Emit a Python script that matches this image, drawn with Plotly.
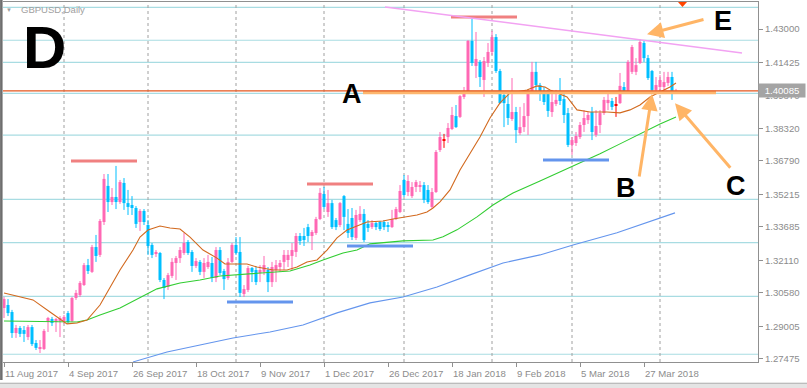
import plotly.graph_objects as go

# ---------------- data ----------------
tick_index = [0, 16, 32, 48, 64, 80, 96, 112, 128, 144, 160]
tick_labels = ["11 Aug 2017", "4 Sep 2017", "26 Sep 2017", "18 Oct 2017", "9 Nov 2017",
               "1 Dec 2017", "26 Dec 2017", "18 Jan 2018", "9 Feb 2018", "5 Mar 2018", "27 Mar 2018"]
month_start_index = [15, 36, 58, 80, 100, 122, 142, 164]

price_ticks = [1.43000, 1.41425, 1.39870, 1.38320, 1.36790, 1.35215, 1.33685,
               1.32110, 1.30580, 1.29005, 1.27475]
current_price = 1.40085
symbol_label = "GBPUSD,Daily"

open_px = [1.2986,1.3000,1.2967,1.2868,1.2892,1.2882,1.2849,1.2896,1.2821,1.2793,
           1.2793,1.2920,1.2934,1.2920,1.2925,1.2925,1.2962,1.2925,1.3033,1.3047,
           1.3094,1.3188,1.3156,1.3273,1.3236,1.3391,1.3561,1.3485,1.3509,1.3485,
           1.3575,1.3480,1.3471,1.3457,1.3391,1.3443,1.3377,1.3283,1.3240,1.3245,
           1.3118,1.3085,1.3137,1.3198,1.3221,1.3245,1.3297,1.3250,1.3184,1.3203,
           1.3156,1.3179,1.3198,1.3127,1.3259,1.3160,1.3127,1.3203,1.3283,1.3250,
           1.3052,1.3071,1.3174,1.3165,1.3151,1.3156,1.3165,1.3108,1.3165,1.3179,
           1.3203,1.3212,1.3231,1.3250,1.3325,1.3325,1.3367,1.3325,1.3339,1.3405,
           1.3523,1.3438,1.3480,1.3400,1.3377,1.3513,1.3382,1.3410,1.3316,1.3400,
           1.3429,1.3382,1.3367,1.3386,1.3391,1.3391,1.3377,1.3367,1.3405,1.3438,
           1.3589,1.3532,1.3513,1.3556,1.3556,1.3565,1.3542,1.3462,1.3532,1.3730,
           1.3777,1.3791,1.3829,1.3890,1.3886,1.3980,1.3999,1.4244,1.4126,1.4145,
           1.4060,1.4140,1.4192,1.4262,1.4102,1.3989,1.3947,1.3876,1.3909,1.3810,
           1.3838,1.3890,1.4003,1.4098,1.4036,1.3999,1.4003,1.3909,1.3947,1.3989,
           1.3970,1.3904,1.3754,1.3763,1.3791,1.3848,1.3871,1.3909,1.3801,1.3848,
           1.3904,1.3951,1.3961,1.3942,1.3951,1.4027,1.4003,1.4098,1.4098,1.4140,
           1.4234,1.4163,1.4102,1.4013,1.4027,1.4027,1.4046,1.4074,1.4003]
high_px = [1.3038,1.3028,1.2977,1.2906,1.2901,1.2901,1.2906,1.2906,1.2835,1.2835,
           1.2887,1.2944,1.2944,1.2939,1.2948,1.2953,1.2972,1.3038,1.3071,1.3113,
           1.3198,1.3217,1.3283,1.3330,1.3405,1.3617,1.3617,1.3551,1.3655,1.3589,
           1.3598,1.3542,1.3513,1.3466,1.3452,1.3452,1.3400,1.3292,1.3259,1.3250,
           1.3127,1.3151,1.3221,1.3231,1.3273,1.3339,1.3306,1.3259,1.3221,1.3212,
           1.3221,1.3236,1.3226,1.3273,1.3273,1.3170,1.3221,1.3292,1.3320,1.3320,
           1.3094,1.3184,1.3179,1.3179,1.3188,1.3231,1.3179,1.3203,1.3212,1.3212,
           1.3259,1.3259,1.3292,1.3339,1.3339,1.3363,1.3382,1.3353,1.3415,1.3551,
           1.3556,1.3542,1.3495,1.3410,1.3485,1.3518,1.3452,1.3457,1.3448,1.3466,
           1.3452,1.3400,1.3400,1.3391,1.3396,1.3400,1.3391,1.3448,1.3462,1.3565,
           1.3612,1.3612,1.3579,1.3589,1.3584,1.3579,1.3565,1.3551,1.3730,1.3815,
           1.3806,1.3857,1.3933,1.3942,1.3989,1.4027,1.4248,1.4347,1.4286,1.4154,
           1.4168,1.4234,1.4291,1.4276,1.4112,1.3999,1.3999,1.4069,1.3933,1.3933,
           1.3951,1.4013,1.4145,1.4145,1.4046,1.4027,1.4013,1.4013,1.4013,1.4069,
           1.3999,1.3928,1.3791,1.3815,1.3862,1.3918,1.3909,1.3933,1.3918,1.3918,
           1.3980,1.3999,1.3975,1.3980,1.4093,1.4050,1.4154,1.4225,1.4163,1.4253,
           1.4248,1.4178,1.4107,1.4074,1.4083,1.4098,1.4098,1.4098,1.4018]
low_px = [1.2939,1.2948,1.2845,1.2845,1.2849,1.2826,1.2835,1.2807,1.2788,1.2774,
          1.2788,1.2873,1.2901,1.2873,1.2849,1.2911,1.2911,1.2920,1.3024,1.3038,
          1.3090,1.3146,1.3151,1.3203,1.3226,1.3377,1.3438,1.3471,1.3452,1.3476,
          1.3448,1.3424,1.3424,1.3363,1.3349,1.3377,1.3236,1.3221,1.3226,1.3108,
          1.3028,1.3071,1.3127,1.3118,1.3198,1.3236,1.3236,1.3156,1.3174,1.3141,
          1.3127,1.3170,1.3108,1.3108,1.3141,1.3071,1.3118,1.3198,1.3236,1.3038,
          1.3038,1.3061,1.3108,1.3094,1.3108,1.3141,1.3061,1.3085,1.3108,1.3156,
          1.3165,1.3179,1.3165,1.3226,1.3283,1.3278,1.3297,1.3259,1.3330,1.3400,
          1.3452,1.3415,1.3358,1.3353,1.3367,1.3353,1.3316,1.3306,1.3306,1.3391,
          1.3297,1.3344,1.3358,1.3353,1.3349,1.3353,1.3344,1.3363,1.3400,1.3433,
          1.3509,1.3513,1.3504,1.3532,1.3532,1.3480,1.3476,1.3457,1.3528,1.3721,
          1.3740,1.3763,1.3824,1.3834,1.3881,1.3970,1.3994,1.4126,1.4069,1.4027,
          1.3980,1.4121,1.4178,1.4093,1.3947,1.3838,1.3848,1.3867,1.3763,1.3801,
          1.3815,1.3801,1.3999,1.4003,1.3961,1.3942,1.3886,1.3886,1.3937,1.3942,
          1.3857,1.3744,1.3707,1.3749,1.3782,1.3815,1.3853,1.3777,1.3791,1.3810,
          1.3895,1.3918,1.3918,1.3886,1.3947,1.3999,1.3999,1.4088,1.4083,1.4135,
          1.4145,1.4060,1.3999,1.4003,1.4003,1.4013,1.4032,1.3966,1.4000]
close_px = [1.3028,1.2962,1.2868,1.2892,1.2864,1.2864,1.2896,1.2816,1.2798,1.2802,
            1.2878,1.2939,1.2915,1.2934,1.2939,1.2944,1.2920,1.3033,1.3057,1.3104,
            1.3188,1.3160,1.3273,1.3231,1.3396,1.3594,1.3485,1.3509,1.3485,1.3579,
            1.3480,1.3462,1.3457,1.3382,1.3443,1.3391,1.3278,1.3236,1.3250,1.3118,
            1.3080,1.3141,1.3203,1.3221,1.3259,1.3292,1.3245,1.3184,1.3207,1.3156,
            1.3198,1.3203,1.3127,1.3259,1.3151,1.3122,1.3203,1.3283,1.3245,1.3057,
            1.3075,1.3174,1.3156,1.3108,1.3165,1.3188,1.3108,1.3179,1.3188,1.3198,
            1.3236,1.3236,1.3259,1.3325,1.3302,1.3306,1.3325,1.3344,1.3405,1.3528,
            1.3462,1.3480,1.3367,1.3367,1.3480,1.3415,1.3339,1.3320,1.3424,1.3429,
            1.3306,1.3363,1.3386,1.3367,1.3358,1.3367,1.3372,1.3405,1.3452,1.3537,
            1.3518,1.3584,1.3556,1.3579,1.3565,1.3495,1.3485,1.3532,1.3721,1.3791,
            1.3777,1.3834,1.3895,1.3838,1.3984,1.3999,1.4244,1.4140,1.4159,1.4074,
            1.4149,1.4192,1.4262,1.4102,1.3951,1.3951,1.3881,1.3909,1.3824,1.3838,
            1.3890,1.4003,1.4098,1.4036,1.3999,1.3956,1.3914,1.3956,1.3966,1.3961,
            1.3895,1.3754,1.3777,1.3796,1.3848,1.3881,1.3895,1.3815,1.3843,1.3904,
            1.3966,1.3966,1.3933,1.3942,1.4032,1.4003,1.4145,1.4215,1.4130,1.4239,
            1.4163,1.4069,1.4013,1.4036,1.4060,1.4050,1.4074,1.4008,1.40085]

# moving averages
ma_fast_idx = [0,7.25,11.5,15.75,18.25,20.75,24,26.5,29,32.25,34,36,39,41.5,44,46.5,49.75,53.25,55.25,
               60.75,63.25,67.25,70.75,73.25,75.75,78.25,80.75,83.25,85.75,90.75,94.75,97.25,100.75,
               103.25,105.75,107.25,109,111.5,114,116.5,119,121.5,124,126.5,130.75,133.25,135.25,136.5,
               140.75,143.25,146.5,150.75,154,156.5,159,161.5,164,166.5,168]
ma_fast_val = [1.3057,1.3024,1.2967,1.2911,1.2915,1.2929,1.3000,1.3085,1.3165,1.3259,1.3320,1.3353,1.3372,
               1.3363,1.3358,1.3320,1.3259,1.3221,1.3193,1.3193,1.3179,1.3165,1.3165,1.3179,1.3203,1.3212,
               1.3259,1.3316,1.3353,1.3391,1.3396,1.3405,1.3415,1.3424,1.3438,1.3457,1.3486,1.3542,1.3636,
               1.3716,1.3791,1.3881,1.3952,1.3999,1.4013,1.4032,1.4027,1.4013,1.3980,1.3919,1.3909,1.3909,
               1.3905,1.3919,1.3942,1.3980,1.4004,1.4027,1.4046]
ma_mid_idx = [0,11.5,18.25,20.75,24,29,34,38.25,44,49,54,60.75,66.5,71.5,76.5,79.75,84.75,88.25,91.5,
              99.75,107.25,109.75,113.25,118.25,122.25,127.25,134,139,144,149,154,159,164,168]
ma_mid_val = [1.2925,1.2920,1.2920,1.2929,1.2953,1.2986,1.3033,1.3076,1.3104,1.3118,1.3137,1.3146,1.3151,
              1.3160,1.3188,1.3212,1.3245,1.3259,1.3288,1.3302,1.3306,1.3321,1.3354,1.3415,1.3471,1.3528,
              1.3584,1.3627,1.3669,1.3712,1.3759,1.3806,1.3853,1.3886]
ma_slow_idx = [32.25,40.75,49,57.25,66.5,74.75,83.25,91.5,99.75,108.25,116.5,124.75,134,142.25,153.25,159,167.75]
ma_slow_val = [1.2732,1.2779,1.2812,1.2845,1.2873,1.2906,1.2963,1.3010,1.3038,1.3085,1.3142,1.3198,1.3236,
               1.3283,1.3340,1.3377,1.3434]

# drawn objects
level_prices = [1.4402, 1.4247, 1.4143, 1.3997, 1.3800, 1.3498, 1.3294, 1.3041, 1.2768]
resist_start = [16.75, 75.75, 111.75]
resist_end = [33.25, 92.25, 128.25]
resist_price = [1.3678, 1.3570, 1.4357]
support_start = [55.75, 85.75, 134.75]
support_end = [72.25, 102.25, 151.25]
support_price = [1.3014, 1.3278, 1.3683]
trend_idx = [95.25, 184.5]
trend_price = [1.4404, 1.4187]
zone_idx = [89.75, 178]
zone_price = 1.4001
arrow_head_idx = [160.75, 162, 167.75]
arrow_head_price = [1.4275, 1.3994, 1.3950]
arrow_tail_idx = [175.25, 158.75, 181.9]
arrow_tail_price = [1.4347, 1.3598, 1.3639]
letter_text = ["A", "E", "B", "C"]
letter_idx = [87.1, 179.75, 155.6, 182.9]
letter_price = [1.3995, 1.4337, 1.3550, 1.3559]
big_letter = "D"
big_letter_idx = 10.1
big_letter_price = 1.4215

# ---------------- styles ----------------
PINK = "#FF69B4"
CYAN = "#00BFFF"
DOJI = "#FF0000"
FONT = "Liberation Sans, Arial, sans-serif"
GREY_TXT = "#8C8C8C"

n = len(open_px)
idx = list(range(n))
body_base, body_h, body_col = [], [], []
wick = {PINK: ([], []), CYAN: ([], []), DOJI: ([], [])}
for i in idx:
    o, h, l, c = open_px[i], high_px[i], low_px[i], close_px[i]
    col = PINK if c > o else (CYAN if c < o else DOJI)
    lo, hi = min(o, c), max(o, c)
    hgt = max(hi - lo, 0.0005)
    body_base.append((lo + hi) / 2 - hgt / 2)
    body_h.append(hgt)
    body_col.append(col)
    wick[col][0].extend([i, i, None])
    wick[col][1].extend([l, h, None])

fig = go.Figure()
fig.add_trace(go.Bar(x=idx, y=body_h, base=body_base, width=0.75,
                     marker=dict(color=body_col, line=dict(width=0)), hoverinfo="skip"))
for col, (wx, wy) in wick.items():
    fig.add_trace(go.Scatter(x=wx, y=wy, mode="lines", line=dict(color=col, width=1),
                             hoverinfo="skip"))
fig.add_trace(go.Scatter(x=ma_slow_idx, y=ma_slow_val, mode="lines",
                         line=dict(color="#6495ED", width=1.1), hoverinfo="skip"))
fig.add_trace(go.Scatter(x=ma_mid_idx, y=ma_mid_val, mode="lines",
                         line=dict(color="#32CD32", width=1.1), hoverinfo="skip"))
fig.add_trace(go.Scatter(x=ma_fast_idx, y=ma_fast_val, mode="lines",
                         line=dict(color="#D2691E", width=1.1), hoverinfo="skip"))

shapes = []
for p in level_prices:
    shapes.append(dict(type="line", xref="paper", x0=0, x1=1, yref="y", y0=p, y1=p,
                       line=dict(color="#A8DCE2", width=1.2), layer="below"))
for m in month_start_index:
    shapes.append(dict(type="line", xref="x", x0=m, x1=m, yref="paper", y0=0, y1=1,
                       line=dict(color="#A0A0A0", width=1, dash="3px,3px"), layer="below"))
for s, e, p in zip(resist_start, resist_end, resist_price):
    shapes.append(dict(type="line", xref="x", x0=s, x1=e, yref="y", y0=p, y1=p,
                       line=dict(color="#F08080", width=3)))
for s, e, p in zip(support_start, support_end, support_price):
    shapes.append(dict(type="line", xref="x", x0=s, x1=e, yref="y", y0=p, y1=p,
                       line=dict(color="#6495ED", width=3)))
shapes.append(dict(type="line", xref="x", x0=trend_idx[0], x1=trend_idx[1], yref="y",
                   y0=trend_price[0], y1=trend_price[1], line=dict(color="#F2A2F2", width=1.5)))
shapes.append(dict(type="line", xref="x", x0=zone_idx[0], x1=zone_idx[1], yref="y",
                   y0=zone_price, y1=zone_price, line=dict(color="#FDB66E", width=3.5)))
shapes.append(dict(type="line", xref="paper", x0=0, x1=1, yref="y", y0=current_price,
                   y1=current_price, line=dict(color="#E4561E", width=1.2)))
# frame decorations
shapes.append(dict(type="line", xref="paper", x0=-0.0022, x1=-0.0022, yref="paper", y0=-0.05, y1=1.01,
                   line=dict(color="#6E6E6E", width=2.5)))
shapes.append(dict(type="rect", xref="paper", x0=-0.01, x1=1.07, yref="paper", y0=-0.075, y1=-0.0595,
                   fillcolor="#E4E4E4", line=dict(width=0)))
shapes.append(dict(type="line", xref="paper", x0=-0.01, x1=1.07, yref="paper", y0=-0.059, y1=-0.059,
                   line=dict(color="#A8A8A8", width=1)))
shapes.append(dict(type="path", xref="paper", yref="paper",
                   path="M 0.894 1.0 L 0.906 1.0 L 0.900 0.986 Z",
                   fillcolor="#FF4500", line=dict(width=0)))

annotations = []
for hx, hy, tx, ty in zip(arrow_head_idx, arrow_head_price, arrow_tail_idx, arrow_tail_price):
    annotations.append(dict(x=hx, y=hy, xref="x", yref="y", ax=tx, ay=ty, axref="x", ayref="y",
                            text="", showarrow=True, arrowhead=2, arrowsize=1.1, arrowwidth=3,
                            arrowcolor="#FFB566", standoff=0))
for t, lx, ly in zip(letter_text, letter_idx, letter_price):
    annotations.append(dict(x=lx, y=ly, xref="x", yref="y", text="<b>%s</b>" % t, showarrow=False,
                            font=dict(family=FONT, size=27, color="#000000"),
                            xanchor="center", yanchor="middle"))
annotations.append(dict(x=big_letter_idx, y=big_letter_price, xref="x", yref="y",
                        text="<b>%s</b>" % big_letter, showarrow=False,
                        font=dict(family=FONT, size=60, color="#000000"),
                        xanchor="center", yanchor="middle"))
annotations.append(dict(x=0.0212, y=0.978, xref="paper", yref="paper", text=symbol_label,
                        showarrow=False, xanchor="left", yanchor="middle",
                        font=dict(family=FONT, size=9.5, color="#A0A0A0")))
annotations.append(dict(x=0.0086, y=0.977, xref="paper", yref="paper", text="▼",
                        showarrow=False, xanchor="center", yanchor="middle",
                        font=dict(family=FONT, size=6, color="#A0A0A0")))
annotations.append(dict(x=1.0, y=current_price, xref="paper", yref="y", text="%.5f" % current_price,
                        showarrow=False, xanchor="left", yanchor="middle", bgcolor="#A4A4A4",
                        width=44, height=11, borderpad=1, align="center",
                        font=dict(family=FONT, size=9.6, color="#FFFFFF")))

fig.update_layout(
    template="none",
    width=807, height=388,
    margin=dict(l=3, r=49, t=2, b=26, pad=0),
    paper_bgcolor="white", plot_bgcolor="white",
    showlegend=False, hovermode=False, barmode="overlay",
    font=dict(family=FONT, size=9.6, color=GREY_TXT),
    shapes=shapes, annotations=annotations,
    xaxis=dict(range=[-0.25, 188.5], tickmode="array", tickvals=tick_index, ticktext=tick_labels,
               ticks="outside", ticklen=4, tickcolor="#909090", showline=True, linecolor="#909090",
               mirror=True, showgrid=False, zeroline=False, automargin=False,
               ticklabelposition="outside right", ticklabelstandoff=2,
               tickfont=dict(family=FONT, size=9.6, color=GREY_TXT)),
    yaxis=dict(range=[1.27316, 1.44272], side="right", tickmode="array", tickvals=price_ticks,
               ticktext=["%.5f" % v for v in price_ticks], ticks="outside", ticklen=4,
               tickcolor="#909090", showline=True, linecolor="#909090", mirror=False,
               showgrid=False, zeroline=False, automargin=False,
               tickfont=dict(family=FONT, size=9.6, color=GREY_TXT)),
)

fig.write_html("out.html", config={"displayModeBar": False},
               post_script="document.body.style.margin='0px';document.body.style.overflow='hidden';")
